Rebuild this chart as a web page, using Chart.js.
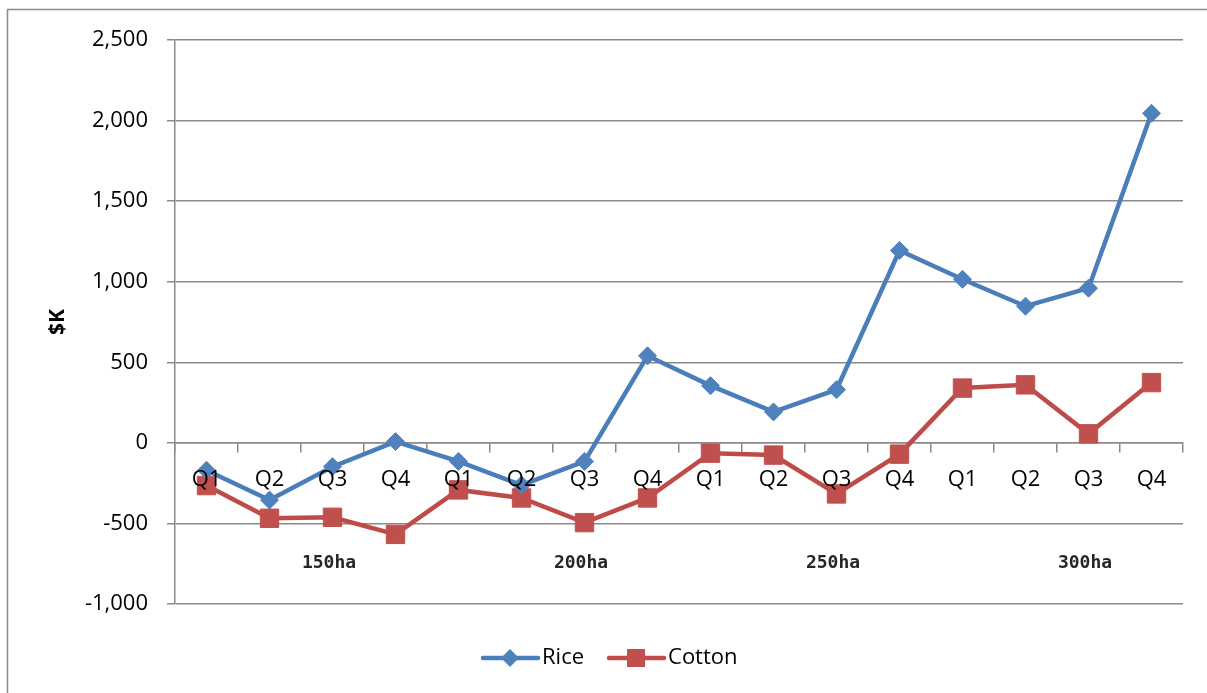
<!DOCTYPE html>
<html>
<head>
<meta charset="utf-8">
<script src="https://cdn.jsdelivr.net/npm/chart.js@4/dist/chart.umd.min.js"></script>
<style>
  body { margin: 0; background: #fff; }
  #wrap { width: 1207px; height: 693px; }
</style>
</head>
<body>
<div id="wrap"><canvas id="farmChart" width="1207" height="693"></canvas></div>
<script>
// -------- Data --------
const quarters = ['Q1', 'Q2', 'Q3', 'Q4'];
const farmSizes = ['150ha', '200ha', '250ha', '300ha'];
const categories = farmSizes.flatMap(() => quarters);

const riceValues = [-170, -355, -148, 8, -115, -262, -115, 540, 355, 192, 330, 1194, 1015, 848, 960, 2045];
const cottonValues = [-265, -468, -462, -568, -292, -342, -495, -342, -64, -76, -317, -70, 340, 360, 56, 374];

const yTicks = [-1000, -500, 0, 500, 1000, 1500, 2000, 2500];

const GRID = '#8a8a8a';
const FONT = '"Open Sans", "Liberation Sans", sans-serif';
const RICE_COLOR = '#4a7ebb';
const COTTON_COLOR = '#be4b48';

// -------- Plugins: frame, group labels, legend --------
const framePlugin = {
  id: 'frame',
  beforeDraw(chart) {
    const ctx = chart.ctx;
    ctx.save();
    ctx.fillStyle = '#fff';
    ctx.fillRect(0, 0, chart.width, chart.height);
    ctx.strokeStyle = '#8c8c8c';
    ctx.lineWidth = 1.5;
    ctx.strokeRect(7.5, 9.5, chart.width + 50, chart.height + 50);
    ctx.restore();
  }
};

const groupLabelPlugin = {
  id: 'groupLabels',
  afterDraw(chart) {
    const ctx = chart.ctx;
    const x = chart.scales.x;
    const y = chart.scales.y;
    ctx.save();
    ctx.font = 'bold 18px "DejaVu Sans Mono", monospace';
    ctx.fillStyle = '#262626';
    ctx.textAlign = 'center';
    ctx.textBaseline = 'middle';
    farmSizes.forEach((label, i) => {
      const first = x.getPixelForValue(i * quarters.length);
      const last = x.getPixelForValue(i * quarters.length + quarters.length - 1);
      ctx.fillText(label, (first + last) / 2 + 28, y.getPixelForValue(-750));
    });
    ctx.restore();
  }
};

const legendPlugin = {
  id: 'lineLegend',
  afterDraw(chart) {
    const ctx = chart.ctx;
    ctx.save();
    ctx.font = '22px ' + FONT;
    ctx.textBaseline = 'middle';
    const cy = 658;
    let cx = 483;
    chart.data.datasets.forEach(ds => {
      ctx.strokeStyle = ds.borderColor;
      ctx.lineWidth = 4.5;
      ctx.lineCap = 'round';
      ctx.beginPath();
      ctx.moveTo(cx, cy);
      ctx.lineTo(cx + 55, cy);
      ctx.stroke();
      ctx.fillStyle = ds.pointBackgroundColor;
      const mx = cx + 27;
      if (ds.pointStyle === 'rectRot') {
        ctx.beginPath();
        ctx.moveTo(mx, cy - 9);
        ctx.lineTo(mx + 9, cy);
        ctx.lineTo(mx, cy + 9);
        ctx.lineTo(mx - 9, cy);
        ctx.closePath();
        ctx.fill();
      } else {
        ctx.fillRect(mx - 9, cy - 9, 18, 18);
      }
      ctx.fillStyle = '#000';
      ctx.fillText(ds.label, cx + 59, cy);
      cx += 59 + ctx.measureText(ds.label).width + 25;
    });
    ctx.restore();
  }
};

// -------- Chart --------
new Chart(document.getElementById('farmChart'), {
  type: 'line',
  data: {
    labels: categories,
    datasets: [
      {
        label: 'Rice',
        data: riceValues,
        borderColor: RICE_COLOR,
        backgroundColor: RICE_COLOR,
        pointBackgroundColor: '#4f81bd',
        pointBorderColor: '#4f81bd',
        pointStyle: 'rectRot',
        pointRadius: 9,
        pointBorderWidth: 1,
        borderWidth: 4.5,
        tension: 0
      },
      {
        label: 'Cotton',
        data: cottonValues,
        borderColor: COTTON_COLOR,
        backgroundColor: COTTON_COLOR,
        pointBackgroundColor: '#c0504d',
        pointBorderColor: '#c0504d',
        pointStyle: 'rect',
        pointRadius: 13,
        pointBorderWidth: 1,
        borderWidth: 4.5,
        tension: 0
      }
    ]
  },
  options: {
    responsive: false,
    animation: false,
    devicePixelRatio: 1,
    layout: { padding: { left: 0, top: 40, right: 24, bottom: 89 } },
    plugins: {
      legend: { display: false },
      tooltip: { enabled: false }
    },
    scales: {
      y: {
        min: -1000,
        max: 2500,
        afterFit: scale => { scale.width = 175; },
        afterBuildTicks: scale => { scale.ticks = yTicks.map(v => ({ value: v })); },
        grid: { color: GRID, lineWidth: 1.5, tickLength: 8 },
        border: { color: GRID, width: 1.5 },
        ticks: {
          padding: 19,
          color: '#000',
          font: { family: FONT, size: 22 },
          callback: v => v.toLocaleString('en-US')
        },
        title: {
          display: true,
          text: '$K',
          color: '#000',
          font: { family: FONT, size: 21, weight: 'bold' },
          padding: { top: 45, bottom: 0 }
        }
      },
      x: {
        type: 'category',
        position: { y: 0 },
        offset: true,
        grid: { drawOnChartArea: false, drawTicks: true, tickLength: 9, color: GRID, lineWidth: 1.5, offset: true },
        border: { color: GRID, width: 1.5 },
        ticks: {
          z: 1,
          padding: 15,
          color: '#000',
          autoSkip: false,
          maxRotation: 0,
          font: { family: FONT, size: 22 }
        }
      }
    }
  },
  plugins: [framePlugin, groupLabelPlugin, legendPlugin]
});
</script>
</body>
</html>
